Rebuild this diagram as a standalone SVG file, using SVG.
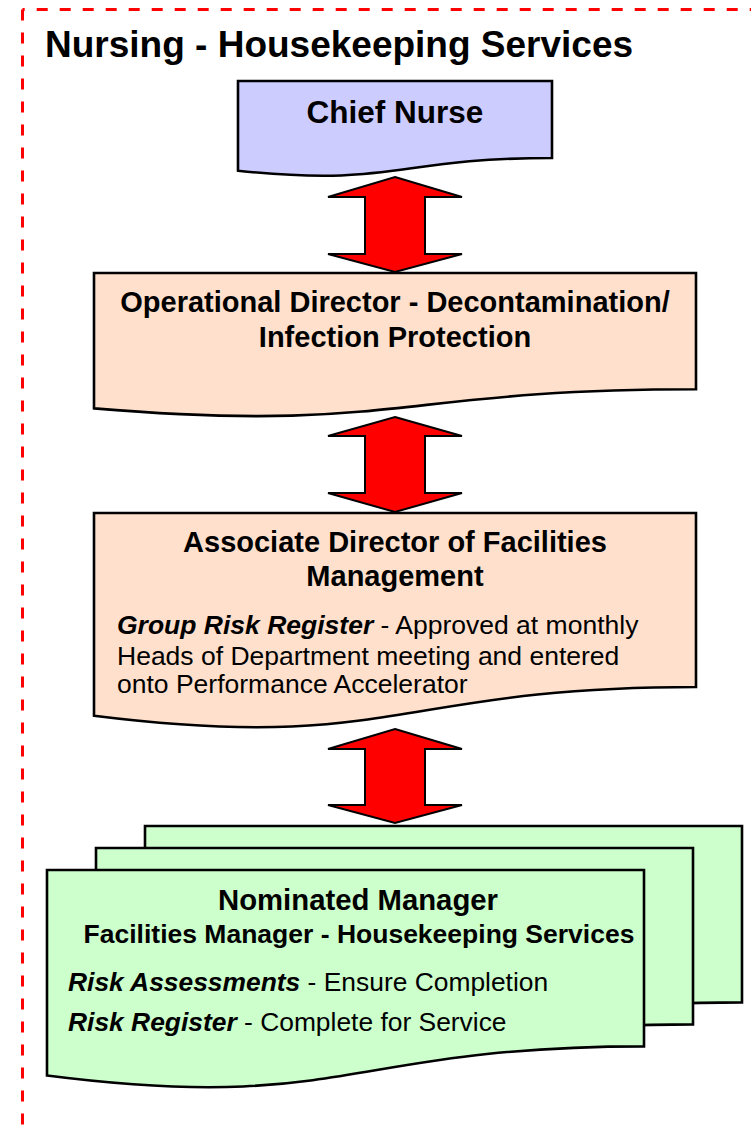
<svg xmlns="http://www.w3.org/2000/svg" width="751" height="1135" viewBox="0 0 751 1135">
<style>
.doc{stroke:#000;stroke-width:2.6;stroke-linejoin:miter}
.blue{fill:#CCCCFF}
.peach{fill:#FFE0CC}
.green{fill:#CCFFCC}
.arrow{fill:#FF0000;stroke:#000;stroke-width:2}
.border{fill:none;stroke:#FF0000;stroke-width:3;stroke-dasharray:11 12}
.t{font-family:"Liberation Sans",Arial,sans-serif;fill:#000}
.b{font-weight:bold}
.bi{font-weight:bold;font-style:italic}
</style>
<rect width="751" height="1135" fill="#fff"/>
<g id="frame">
<line class="border" x1="22.5" y1="9.5" x2="22.5" y2="1135"/>
<line class="border" x1="22.5" y1="9.5" x2="751" y2="9.5" style="stroke-dashoffset:8.8"/>
<text class="t b" x="45" y="57" font-size="37">Nursing - Housekeeping Services</text>
</g>
<g id="connectors">
<path class="arrow" d="M395 177 L462 197 L425 197 L425 254 L462 254 L395 272 L328 254 L365 254 L365 197 L328 197 Z"/>
<path class="arrow" d="M395 417 L462 436 L425 436 L425 493 L462 493 L395 512 L328 493 L365 493 L365 436 L328 436 Z"/>
<path class="arrow" d="M395 729 L462 749 L425 749 L425 805 L462 805 L395 823 L328 805 L365 805 L365 749 L328 749 Z"/>
</g>
<g id="chief-nurse">
<path class="doc blue" d="M238 81 H552 V158 C395 158 395 187.3 238 170.7 Z"/>
<text class="t b" x="395" y="123" font-size="31.5" text-anchor="middle">Chief Nurse</text>
</g>
<g id="operational-director">
<path class="doc peach" d="M94 273 H696 V389.3 C395 389.3 395 433.6 94 408.4 Z"/>
<text class="t b" x="395" y="312" font-size="29" text-anchor="middle">Operational Director - Decontamination/</text>
<text class="t b" x="395" y="346.5" font-size="29" text-anchor="middle">Infection Protection</text>
</g>
<g id="associate-director">
<path class="doc peach" d="M94 513 H696 V687 C395 687 395 753.3 94 715.7 Z"/>
<text class="t b" x="395" y="551.5" font-size="29" text-anchor="middle">Associate Director of Facilities</text>
<text class="t b" x="395" y="586" font-size="29" text-anchor="middle">Management</text>
<text class="t" x="117" y="634" font-size="26.5"><tspan class="bi">Group Risk Register</tspan> - Approved at monthly</text>
<text class="t" x="117" y="665" font-size="26.5">Heads of Department meeting and entered</text>
<text class="t" x="117" y="693" font-size="26.5">onto Performance Accelerator</text>
</g>
<g id="nominated-manager">
<path class="doc green" d="M145 826 H742 V1002.4 C443.5 1002.4 443.5 1069.7 145 1031.5 Z"/>
<path class="doc green" d="M96 848 H693 V1024.4 C394.5 1024.4 394.5 1091.7 96 1053.5 Z"/>
<path class="doc green" d="M47 870 H644 V1046.4 C345.5 1046.4 345.5 1113.7 47 1075.5 Z"/>
<text class="t b" x="358" y="910" font-size="29.3" text-anchor="middle">Nominated Manager</text>
<text class="t b" x="359" y="943" font-size="26.5" text-anchor="middle">Facilities Manager - Housekeeping Services</text>
<text class="t" x="68" y="991" font-size="26.4"><tspan class="bi">Risk Assessments</tspan> - Ensure Completion</text>
<text class="t" x="68" y="1031" font-size="26.4"><tspan class="bi">Risk Register</tspan> - Complete for Service</text>
</g>
</svg>
